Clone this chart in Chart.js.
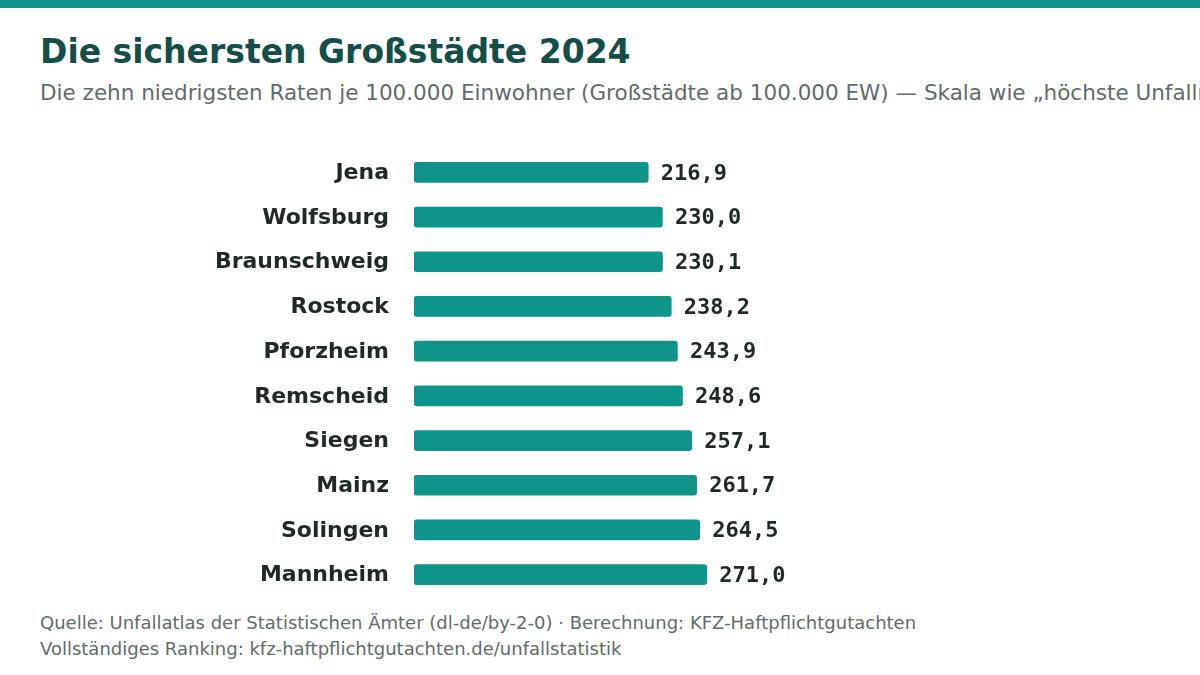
<!DOCTYPE html>
<html lang="de">
<head>
<meta charset="utf-8">
<script src="https://cdn.jsdelivr.net/npm/chart.js@4"></script>
<style>
  html, body { margin: 0; padding: 0; background: #ffffff; }
  body { width: 1200px; height: 675px; position: relative; overflow: hidden; font-family: "DejaVu Sans", sans-serif; }
  .topbar { position: absolute; left: 0; top: 0; width: 1200px; height: 8px; background: #0e9488; }
  h1 { position: absolute; left: 40px; top: 30px; margin: 0; font-size: 33px; font-weight: bold; color: #134e48; white-space: nowrap; line-height: 44px; }
  .sub { position: absolute; left: 40px; top: 79px; margin: 0; font-size: 21.5px; color: #5e6d69; white-space: nowrap; line-height: 28px; }
  #c { position: absolute; left: 0; top: 150px; }
  .foot { position: absolute; left: 40px; top: 610px; font-size: 18px; color: #5e6d69; line-height: 26px; white-space: nowrap; }
</style>
</head>
<body>
<div class="topbar"></div>
<h1>Die sichersten Großstädte 2024</h1>
<p class="sub">Die zehn niedrigsten Raten je 100.000 Einwohner (Großstädte ab 100.000 EW) — Skala wie „höchste Unfallraten“</p>
<canvas id="c" width="1200" height="447" style="width:1200px;height:447px"></canvas>
<div class="foot">Quelle: Unfallatlas der Statistischen Ämter (dl-de/by-2-0) · Berechnung: KFZ-Haftpflichtgutachten<br>Vollständiges Ranking: kfz-haftpflichtgutachten.de/unfallstatistik</div>
<script>
const cities = ["Jena", "Wolfsburg", "Braunschweig", "Rostock", "Pforzheim", "Remscheid", "Siegen", "Mainz", "Solingen", "Mannheim"];
const rates = [216.9, 230.0, 230.1, 238.2, 243.9, 248.6, 257.1, 261.7, 264.5, 271.0];
const scaleMax = 700;

const valueLabels = {
  id: 'valueLabels',
  afterDatasetsDraw(chart) {
    const ctx = chart.ctx;
    const meta = chart.getDatasetMeta(0);
    ctx.save();
    ctx.font = 'bold 22px "DejaVu Sans Mono", monospace';
    ctx.fillStyle = '#1f2a28';
    ctx.textAlign = 'left';
    ctx.textBaseline = 'middle';
    meta.data.forEach((bar, i) => {
      const txt = rates[i].toFixed(1).replace('.', ',');
      ctx.fillText(txt, bar.x + 12.5, bar.y + 1.5);
    });
    ctx.restore();
  }
};

new Chart(document.getElementById('c'), {
  type: 'bar',
  data: {
    labels: cities,
    datasets: [{
      data: rates,
      backgroundColor: '#0e9488',
      borderRadius: 3,
      borderSkipped: false,
      barThickness: 20
    }]
  },
  options: {
    indexAxis: 'y',
    responsive: false,
    animation: false,
    layout: { padding: { left: 0, right: 30, top: 0, bottom: 0 } },
    plugins: { legend: { display: false }, tooltip: { enabled: false } },
    scales: {
      x: {
        display: false,
        min: 0,
        max: scaleMax
      },
      y: {
        afterFit(scale) {
          scale.width = 414;
          scale.paddingTop = 0;
          scale.paddingBottom = 0;
        },
        grid: { display: false, drawTicks: false },
        border: { display: false },
        ticks: {
          padding: 25,
          labelOffset: 1,
          color: '#1f2a28',
          font: { family: '"DejaVu Sans", sans-serif', size: 22, weight: 'bold' }
        }
      }
    }
  },
  plugins: [valueLabels]
});
</script>
</body>
</html>
